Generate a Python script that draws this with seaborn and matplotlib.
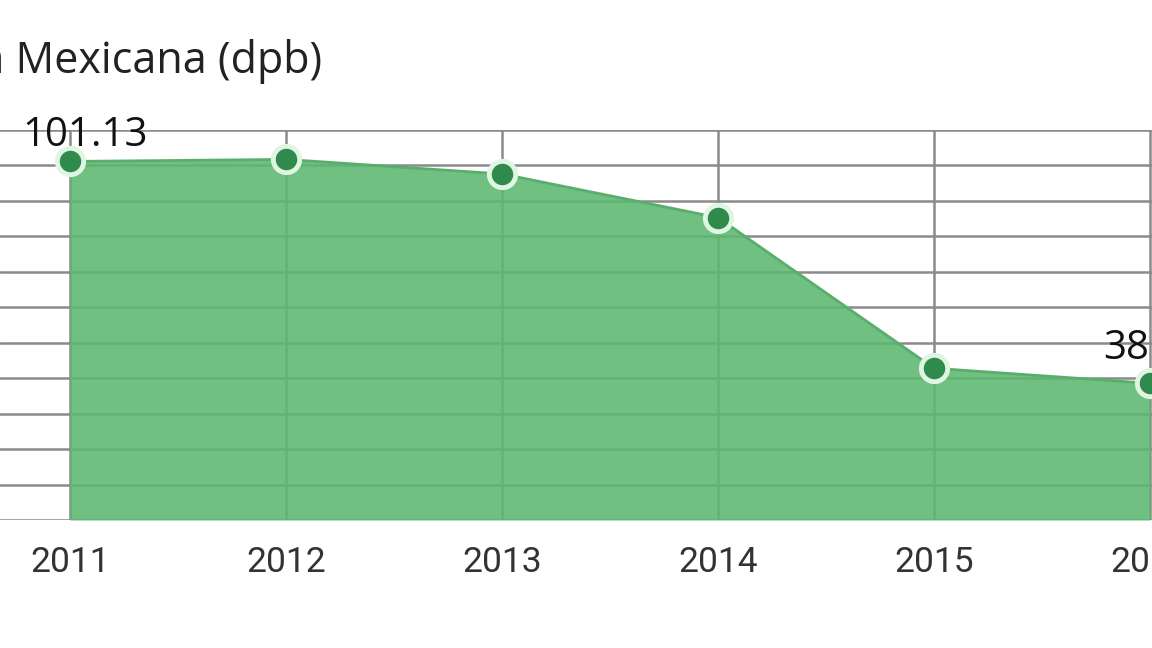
import matplotlib
matplotlib.use('Agg')
import matplotlib.pyplot as plt
import seaborn as sns
import pandas as pd

# Precio promedio de la mezcla mexicana de exportacion (dolares por barril)
years = [2011, 2012, 2013, 2014, 2015, 2016]
prices = [101.13, 101.7, 97.6, 85.3, 42.8, 38.55]
labelled_years = [2011, 2016]
title_text = 'Mezcla Mexicana (dpb)'

df = pd.DataFrame({'year': years, 'price': prices})

sns.set_theme(style='white')
plt.rcParams['font.family'] = ['Roboto', 'DejaVu Sans']

fig = plt.figure(figsize=(11.52, 6.48), dpi=100)
ax = fig.add_axes([0, (648 - 520) / 648, 1, (520 - 130) / 648])

fill_color = '#5cb870'
ax.fill_between(df['year'], df['price'], 0, color=fill_color, alpha=0.88,
                linewidth=0, zorder=2)
sns.lineplot(data=df, x='year', y='price', ax=ax, color='#5aae6c',
             linewidth=2, zorder=3)
sns.scatterplot(data=df, x='year', y='price', ax=ax, s=360, color='#2f8a4c',
                edgecolor='#dff6e2', linewidth=3.5, zorder=4)

# gridlines
ax.set_yticks(range(0, 111, 10))
ax.set_xticks(years)
ax.grid(True, color='#8a8a8a', linewidth=1.8, zorder=1)
ax.set_axisbelow(True)

x0 = 2011 - 70 / 216
ax.set_xlim(x0, x0 + 1152 / 216)
ax.set_ylim(0, 110)
for s in ax.spines.values():
    s.set_visible(False)
ax.tick_params(axis='y', left=False, labelleft=False)
ax.tick_params(axis='x', bottom=False, labelsize=25.5, labelcolor='#333333',
               pad=13)
ax.set_xlabel('')
ax.set_ylabel('')

# value labels: start a bit left of the point, sitting above it
label_dy = {2011: 4, 2016: 10}
for yr in labelled_years:
    v = df.loc[df['year'] == yr, 'price'].iloc[0]
    ax.annotate(f'{v:.2f}', (yr, v), xytext=(-34, label_dy[yr]),
                textcoords='offset points', ha='left', va='bottom',
                fontsize=29, color='#111111',
                family=['Open Sans', 'DejaVu Sans'], zorder=5)

fig.text(322 / 1152, 1 - 62 / 648, title_text, ha='right', va='center',
         fontsize=31, color='#222222', family=['Open Sans', 'DejaVu Sans'])

fig.savefig('out.png', dpi=100)
